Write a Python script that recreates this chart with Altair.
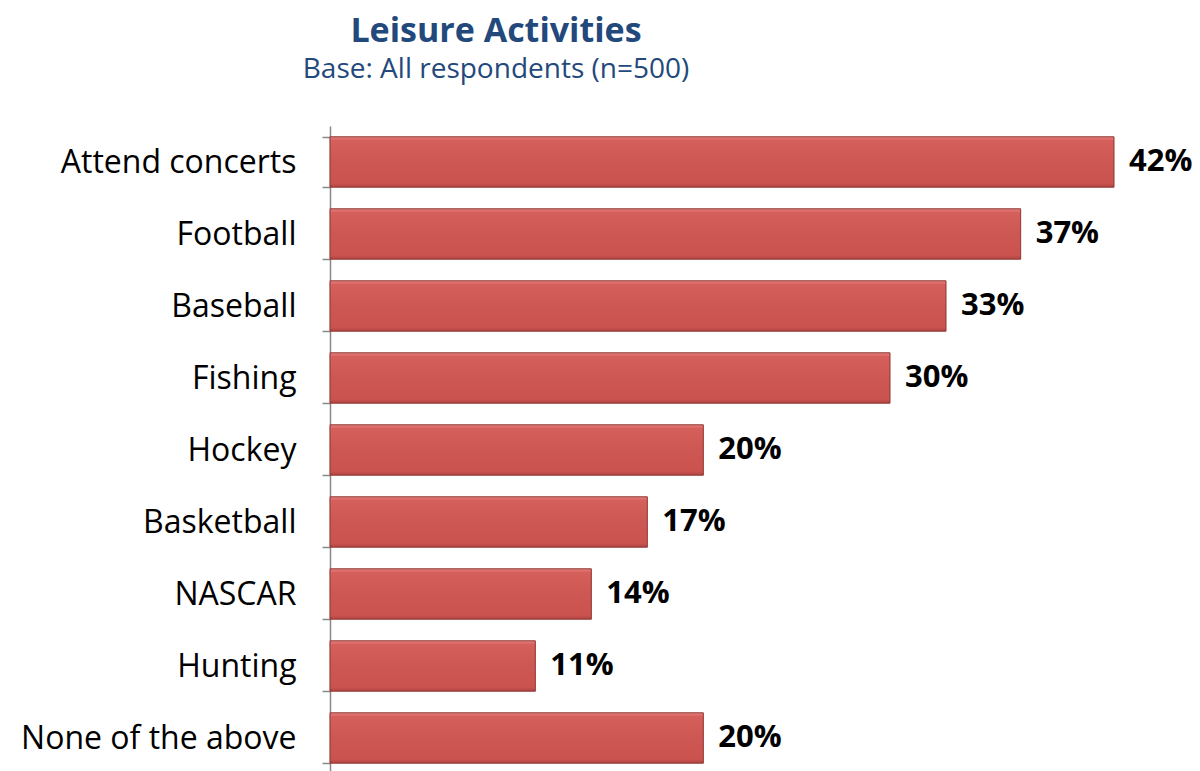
import altair as alt
import pandas as pd

categories = ["Attend concerts", "Football", "Baseball", "Fishing", "Hockey",
              "Basketball", "NASCAR", "Hunting", "None of the above"]
values = [42, 37, 33, 30, 20, 17, 14, 11, 20]
labels = ["42%", "37%", "33%", "30%", "20%", "17%", "14%", "11%", "20%"]

df = pd.DataFrame({"activity": categories, "pct": values, "label": labels})

FONT = "Open Sans"

y_enc = alt.Y("activity:N", sort=categories, title=None,
              scale=alt.Scale(paddingInner=0.3, paddingOuter=0.15),
              axis=alt.Axis(labelFontSize=32, labelColor="#000000", labelFont=FONT,
                            labelPadding=26, tickBand="extent", tickSize=8,
                            tickColor="#888888", domainColor="#888888",
                            domainWidth=1.5, tickWidth=1.5, labelLimit=400))
x_enc = alt.X("pct:Q", scale=alt.Scale(domain=[0, 42], nice=False), axis=None)

bars = alt.Chart(df).mark_bar(
    color={"gradient": "linear", "x1": 0, "y1": 0, "x2": 0, "y2": 1,
           "stops": [{"offset": 0, "color": "#E8817D"},
                     {"offset": 0.08, "color": "#D45F5B"},
                     {"offset": 0.5, "color": "#CD5753"},
                     {"offset": 0.92, "color": "#CB534F"},
                     {"offset": 1, "color": "#B04441"}]},
    stroke="#8E3633", strokeWidth=1
).encode(x=x_enc, y=y_enc)

text = alt.Chart(df).mark_text(
    align="left", baseline="middle", dx=15, fontSize=31, fontWeight="bold",
    font=FONT, color="#000000"
).encode(x=x_enc, y=y_enc, text="label:N")

chart = (bars + text).properties(
    width=784, height=648,
    autosize=alt.AutoSizeParams(type="none"),
    padding={"left": 322, "top": 118, "right": 78, "bottom": 0},
    title=alt.TitleParams(
        "Leisure Activities",
        subtitle="Base: All respondents (n=500)",
        font=FONT, fontSize=34, fontWeight="bold", color="#23497C",
        subtitleFont=FONT, subtitleFontSize=28, subtitleColor="#23497C",
        subtitlePadding=7, anchor="middle", dx=-226, offset=26
    )
).configure_view(stroke=None)

chart.save("out.html", embed_options={"renderer": "svg", "actions": False})
